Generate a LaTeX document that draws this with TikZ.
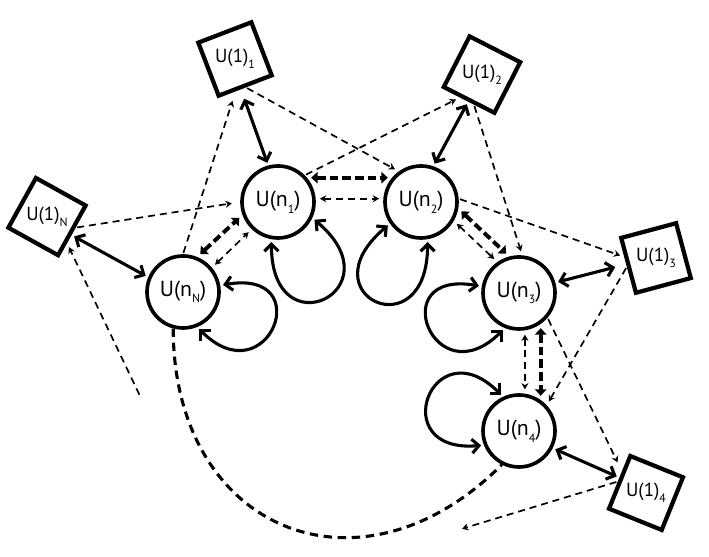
\documentclass[tikz,border=0pt]{standalone}
\usepackage{fontspec}
\setmainfont{PT Sans}
\usetikzlibrary{arrows.meta}
\newcommand{\sbs}[1]{\raisebox{-0.6ex}{\fontsize{8.5}{9}\selectfont #1}} % small lowered index
\newcommand{\flavor}[4]{ % #1: name, #2: position, #3: rotation, #4: index
  \node[flavorbox, rotate=#3] (#1) at (#2) {}; % tilted square
  \node[flavortext] (#1t) at (#1) {U(1)\sbs{#4}}; % upright label
}

\begin{document}
\begin{tikzpicture}[
  gauge/.style={circle, draw, line width=2.6pt, minimum size=1.8cm, inner sep=0pt, font=\fontsize{15.5}{17}\selectfont},
  flavorbox/.style={rectangle, draw, line width=3pt, minimum size=1.42cm, inner sep=0pt},
  flavortext/.style={inner sep=0pt, font=\fontsize{13.5}{15}\selectfont},
  link/.style={{Straight Barb[length=5pt,width=10pt]}-{Straight Barb[length=5pt,width=10pt]}, line width=2.2pt, shorten <=2pt, shorten >=2pt},
  bbond/.style={{Triangle[length=4.5pt,width=8pt]}-{Triangle[length=4.5pt,width=8pt]}, line width=2.8pt, dash pattern=on 6pt off 3pt, shorten <=3pt, shorten >=3pt},
  fbond/.style={{Stealth[length=4.5pt,width=5pt]}-{Stealth[length=4.5pt,width=5pt]}, line width=1.2pt, dash pattern=on 5pt off 3.5pt, shorten <=3pt, shorten >=3pt},
  fleg/.style={-{Stealth[length=4.5pt,width=5pt]}, line width=1.2pt, dash pattern=on 5pt off 3.5pt, shorten <=1pt, shorten >=3pt},
  chain/.style={line width=2.2pt, dash pattern=on 6pt off 4pt}
]
\useasboundingbox (0,0) rectangle (17.725,13.925);

% Gauge nodes
\node[gauge] (n1) at (6.95,8.875) {U(n\sbs{1})};
\node[gauge] (n2) at (10.525,8.875) {U(n\sbs{2})};
\node[gauge] (nN) at (4.575,6.625) {U(n\sbs{N})};
\node[gauge] (n3) at (12.975,6.6) {U(n\sbs{3})};
\node[gauge] (n4) at (12.975,3.15) {U(n\sbs{4})};

% Flavour boxes
\flavor{u1}{5.875,12.45}{21}{1}
\flavor{u2}{12.05,12.06}{-27}{2}
\flavor{u3}{16.4,7.475}{15}{3}
\flavor{u4}{16.15,1.6}{-22}{4}
\flavor{uN}{1.175,8.51}{-29}{N}

% Loose ends of the dashed legs
\coordinate (e1) at (11.45,0.675);
\coordinate (e2) at (3.5,4.025);

% Gauge-flavour links
\draw[link, shorten <=7pt] (u1.-100) -- (n1.105);
\draw[link] (u2.south) -- (n2.71);
\draw[link] (uN.-8) -- (nN.157);
\draw[link, shorten >=8pt] (n3.16) -- (u3.177);
\draw[link] (n4.-27) -- (u4.172);

% Adjoint loops
\draw[link] (n1.-100) .. controls +(-90:2.8) and +(-40:2.8) .. (n1.-25);
\draw[link] (n2.-145) .. controls +(-140:2.8) and +(-90:2.8) .. (n2.-80);
\draw[link] (nN.10) .. controls +(10:2.5) and +(-45:2.5) .. (nN.-68);
\draw[link] (n3.170) .. controls +(170:2.5) and +(-135:2.5) .. (n3.-112);
\draw[link] (n4.115) .. controls +(135:2.5) and +(185:2.5) .. (n4.-158);

% Bifundamentals, thick and thin
\draw[bbond] (n1.40) -- (n2.140);
\draw[bbond] (nN.68) -- (n1.200);
\draw[bbond] (n2.-10) -- (n3.105);
\draw[bbond] (n3.-55) -- (n4.55);
\draw[fbond] (n1.5) -- (n2.175);
\draw[fbond] (nN.40) -- (n1.226);
\draw[fbond] (n2.-30) -- (n3.125);
\draw[fbond] (n3.-81) -- (n4.81);

% Dashed legs to the flavour boxes
\draw[fleg] (u1.south) -- (n2.126);
\draw[fleg, shorten >=7pt] (nN.90) -- (u1.-110);
\draw[fleg, shorten >=6pt] (uN.8) -- (n1.180);
\draw[fleg] (n1.45) -- (u2.-107);
\draw[fleg] (u2.-78) -- (n3.85);
\draw[fleg] (n2.5) -- (u3.163);
\draw[fleg] (u3.182) -- (n4.43);
\draw[fleg, shorten >=7pt] (n3.-41) -- (u4.160);
\draw[fleg] (u4.west) -- (e1);
\draw[fleg] (e2) -- (uN.-24);

% Rest of the chain
\draw[chain] (nN.-105) to[out=-90, in=-135, looseness=1.45] (n4.243);

\end{tikzpicture}
\end{document}
